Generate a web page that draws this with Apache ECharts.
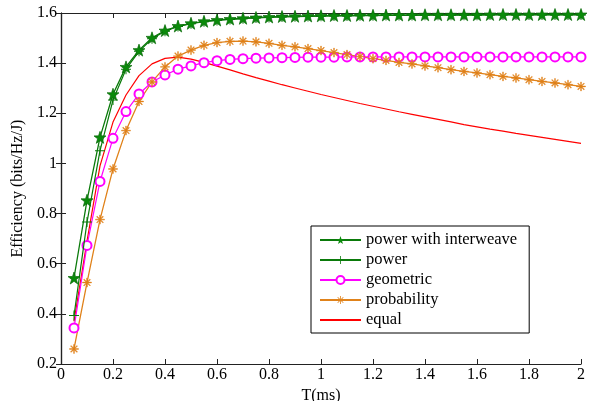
<!DOCTYPE html>
<html>
<head>
<meta charset="utf-8">
<script src="https://cdn.jsdelivr.net/npm/echarts@6/dist/echarts.min.js"></script>
<style>html,body{margin:0;padding:0;background:#fff}#c{width:589px;height:401px}</style>
</head>
<body>
<div id="c"></div>
<script>
var T = [];
for (var k = 1; k <= 40; k++) T.push(+(k * 0.05).toFixed(2));
var xTicks = [0, 0.2, 0.4, 0.6, 0.8, 1, 1.2, 1.4, 1.6, 1.8, 2];
var yTicks = [0.2, 0.4, 0.6, 0.8, 1, 1.2, 1.4, 1.6];
var names = ['power with interweave', 'power', 'geometric', 'probability', 'equal'];

var interweave = [0.543, 0.853, 1.104, 1.276, 1.385, 1.452, 1.501, 1.530, 1.548, 1.559,
  1.567, 1.572, 1.576, 1.579, 1.582, 1.584, 1.586, 1.587, 1.588, 1.589,
  1.590, 1.590, 1.591, 1.591, 1.592, 1.592, 1.592, 1.593, 1.593, 1.593,
  1.593, 1.593, 1.594, 1.594, 1.594, 1.594, 1.594, 1.594, 1.594, 1.594];
var power = [0.393, 0.766, 1.051, 1.253, 1.376, 1.447, 1.497, 1.527, 1.546, 1.557,
  1.565, 1.570, 1.574, 1.577, 1.580, 1.582, 1.584, 1.585, 1.586, 1.587,
  1.588, 1.588, 1.589, 1.589, 1.590, 1.590, 1.590, 1.591, 1.591, 1.591,
  1.591, 1.591, 1.592, 1.592, 1.592, 1.592, 1.592, 1.592, 1.592, 1.592];
var geometric = [0.344, 0.673, 0.928, 1.100, 1.207, 1.277, 1.325, 1.353, 1.376, 1.389,
  1.402, 1.410, 1.415, 1.418, 1.420, 1.421, 1.422, 1.423, 1.424, 1.424,
  1.424, 1.425, 1.425, 1.425, 1.425, 1.425, 1.425, 1.425, 1.425, 1.425,
  1.425, 1.425, 1.425, 1.425, 1.425, 1.425, 1.425, 1.425, 1.425, 1.425];
var probability = [0.260, 0.525, 0.776, 0.978, 1.131, 1.247, 1.325, 1.385, 1.428, 1.452,
  1.471, 1.482, 1.487, 1.488, 1.485, 1.479, 1.471, 1.465, 1.458, 1.450,
  1.442, 1.434, 1.426, 1.418, 1.411, 1.403, 1.397, 1.389, 1.382, 1.374,
  1.367, 1.361, 1.354, 1.347, 1.341, 1.334, 1.327, 1.321, 1.314, 1.307];
var equal = [0.370, 0.690, 0.990, 1.165, 1.273, 1.350, 1.397, 1.419, 1.424, 1.416,
  1.403, 1.388, 1.373, 1.357, 1.342, 1.328, 1.314, 1.301, 1.288, 1.275,
  1.263, 1.251, 1.239, 1.228, 1.217, 1.206, 1.196, 1.186, 1.176, 1.166,
  1.155, 1.146, 1.137, 1.129, 1.120, 1.112, 1.104, 1.096, 1.088, 1.080];

function pairs(v) { return T.map(function (t, i) { return [t, v[i]]; }); }

var STAR = 'path://M0,-10 L2.35,-3.24 L9.51,-3.09 L3.8,1.24 L5.88,8.09 L0,4 L-5.88,8.09 L-3.8,1.24 L-9.51,-3.09 L-2.35,-3.24 Z';
var PLUS = 'path://M-0.5,-5 L0.5,-5 L0.5,-0.5 L5,-0.5 L5,0.5 L0.5,0.5 L0.5,5 L-0.5,5 L-0.5,0.5 L-5,0.5 L-5,-0.5 L-0.5,-0.5 Z';
var AST = 'path://M-5,-0.5 L5,-0.5 L5,0.5 L-5,0.5 Z M-0.5,-5 L0.5,-5 L0.5,5 L-0.5,5 Z M-3.19,-3.89 L3.89,3.19 L3.19,3.89 L-3.89,-3.19 Z M-3.89,3.19 L3.19,-3.89 L3.89,-3.19 L-3.19,3.89 Z';

var FONT = 'Liberation Serif';
var axisLine = { show: true, lineStyle: { color: '#222', width: 1.2 } };
var tick = { show: true, inside: true, length: 5, lineStyle: { color: '#222', width: 1 } };

var chart = echarts.init(document.getElementById('c'), null, { renderer: 'canvas' });
chart.setOption({
  animation: false,
  backgroundColor: '#fff',
  grid: { left: 61, top: 13, right: 8, bottom: 37, containLabel: false, outerBoundsMode: 'none' },
  xAxis: [{
    type: 'value', min: 0, max: 2, interval: 0.2,
    name: 'T(ms)', nameLocation: 'middle', nameGap: 20,
    nameTextStyle: { fontFamily: FONT, fontSize: 16, color: '#000' },
    axisLine: axisLine, axisTick: tick, splitLine: { show: false },
    axisLabel: { fontFamily: FONT, fontSize: 16, color: '#000', margin: 3,
      formatter: function (v) { return xTicks.indexOf(+v.toFixed(2)) >= 0 ? String(+v.toFixed(2)) : ''; } }
  }, {
    type: 'value', min: 0, max: 2, interval: 0.2, position: 'top',
    axisLine: axisLine, axisTick: tick, axisLabel: { show: false }, splitLine: { show: false }
  }],
  yAxis: [{
    type: 'value', min: 0.2, max: 1.6, interval: 0.2,
    name: 'Efficiency (bits/Hz/J)', nameLocation: 'middle', nameGap: 28,
    nameTextStyle: { fontFamily: FONT, fontSize: 16, color: '#000' },
    axisLine: axisLine, axisTick: tick, splitLine: { show: false },
    axisLabel: { fontFamily: FONT, fontSize: 16, color: '#000', margin: 4,
      formatter: function (v) { return yTicks.indexOf(+v.toFixed(2)) >= 0 ? String(+v.toFixed(2)) : ''; } }
  }, {
    type: 'value', min: 0.2, max: 1.6, interval: 0.2, position: 'right',
    axisLine: axisLine, axisTick: tick, axisLabel: { show: false }, splitLine: { show: false }
  }],
  legend: {
    orient: 'vertical', left: 311, top: 226,
    borderColor: '#000', borderWidth: 1, backgroundColor: '#fff',
    padding: [5, 12, 4, 8], itemWidth: 41, itemHeight: 10, itemGap: 2, itemTextGap: 5,
    itemStyle: { borderWidth: 0 },
    textStyle: { fontFamily: FONT, fontSize: 16.5, color: '#000', lineHeight: 18 },
    data: [names[0], names[1], names[2], names[3], { name: names[4], itemStyle: { opacity: 0 } }]
  },
  series: [
    { name: names[0], type: 'line', data: pairs(interweave), symbol: STAR, symbolSize: 12,
      lineStyle: { color: '#0a7a0a', width: 1.3 }, itemStyle: { color: '#0a8a0a', borderColor: '#0a6a0a', borderWidth: 0.7 }, z: 5 },
    { name: names[1], type: 'line', data: pairs(power), symbol: PLUS, symbolSize: 10,
      lineStyle: { color: '#0a7a0a', width: 1.2 }, itemStyle: { color: '#0a7a0a', borderWidth: 0 }, z: 4 },
    { name: names[2], type: 'line', data: pairs(geometric), symbol: 'emptyCircle', symbolSize: 9,
      lineStyle: { color: '#ff00ff', width: 1.2 }, itemStyle: { color: '#ff00ff', borderWidth: 1.3 }, z: 3 },
    { name: names[3], type: 'line', data: pairs(probability), symbol: AST, symbolSize: 9,
      lineStyle: { color: '#e0821a', width: 1.3 }, itemStyle: { color: '#e0821a', borderColor: '#e0821a', borderWidth: 0.4 }, z: 3 },
    { name: names[4], type: 'line', data: pairs(equal), symbol: 'none', showSymbol: false,
      lineStyle: { color: '#ff0000', width: 1.2 }, itemStyle: { color: '#ff0000' }, z: 2 }
  ]
});
</script>
</body>
</html>
